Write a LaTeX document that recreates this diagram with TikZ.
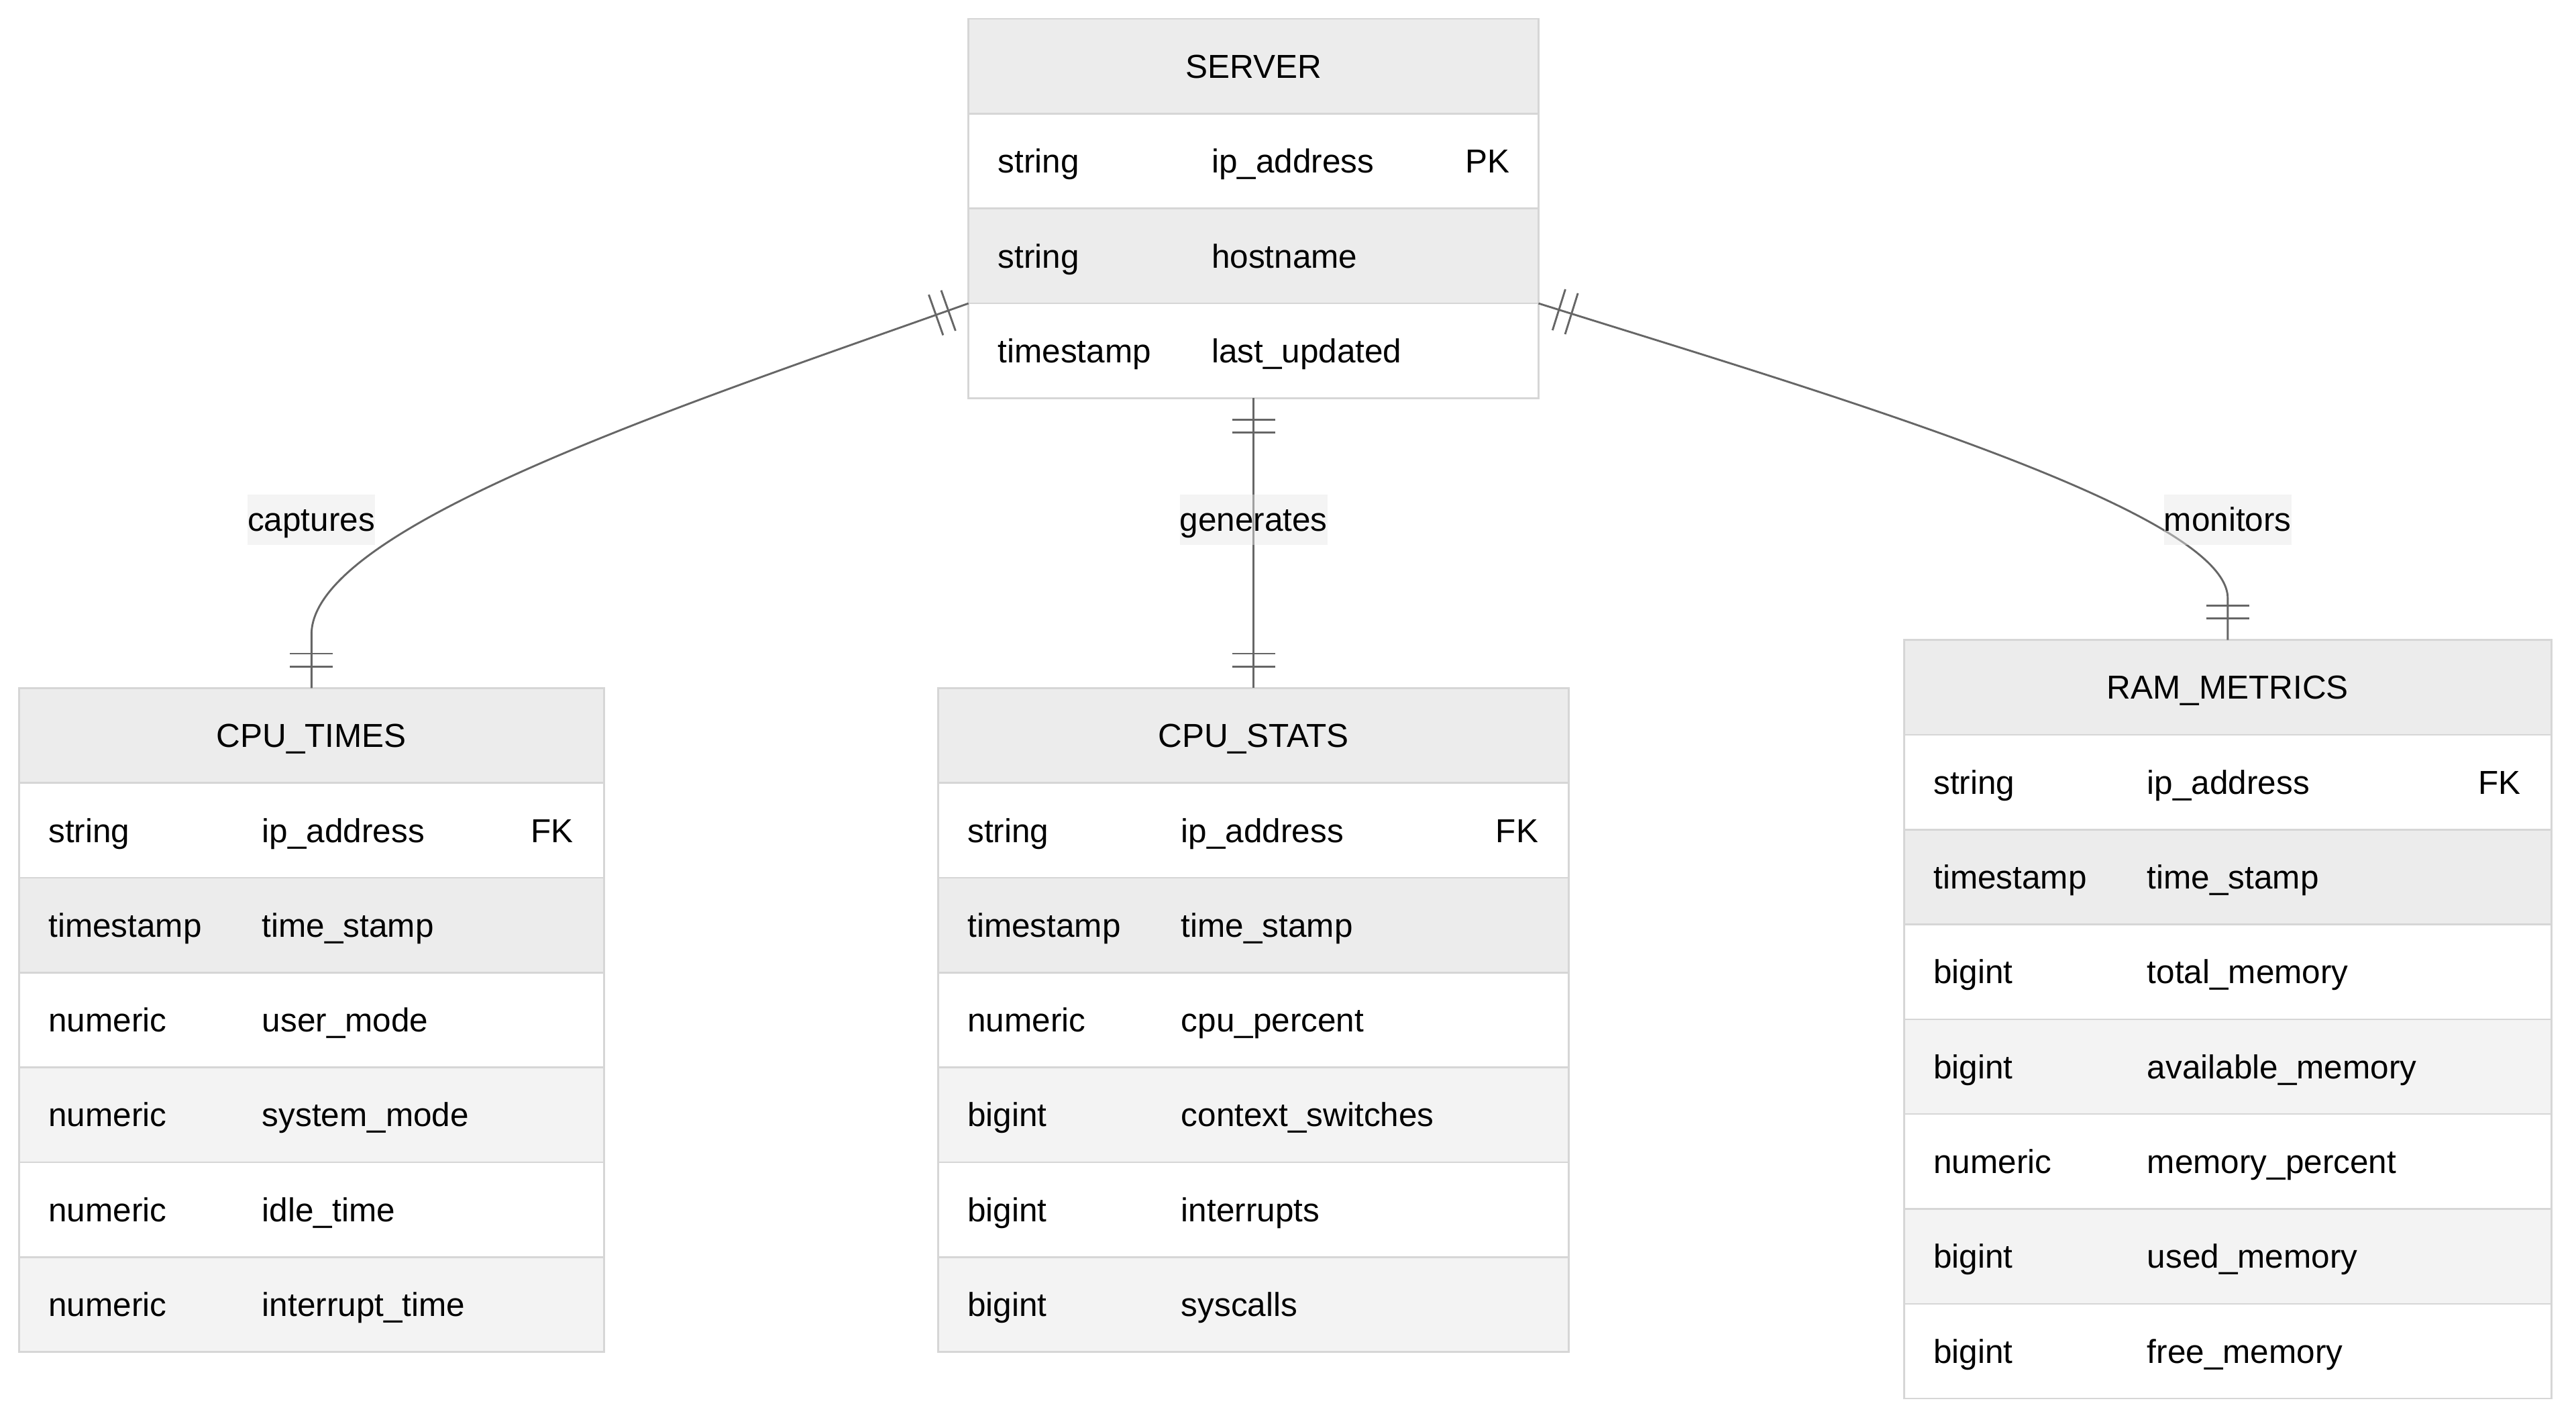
\documentclass[tikz,border=0pt]{standalone}
\usepackage{fontspec}
\setmainfont{Liberation Sans}
\usetikzlibrary{calc,decorations.markings}
\newlength\unitpx
\setlength\unitpx{0.6123pt}
\definecolor{hdrfill}{HTML}{ECECEC}
\definecolor{rowA}{HTML}{ECECEC}
\definecolor{rowB}{HTML}{F3F3F3}
\definecolor{bordercol}{HTML}{D6D6D6}
\definecolor{linecol}{HTML}{666666}
\definecolor{lblfill}{HTML}{E8E8E8}
\tikzset{
  cellbox/.style={draw=bordercol, line width=0.65pt, inner sep=0pt, outer sep=0pt, minimum height=57.7*\unitpx},
  celltext/.style={inner sep=0pt, outer sep=0pt, text height=8.83pt, text depth=0pt, font=\fontsize{12.37pt}{14pt}\selectfont, text=black},
  connline/.style={draw=linecol, line width=0.72pt},
  onebars/.style={postaction={decorate}, decoration={markings,
    mark=at position 7.96pt with {\draw[connline] (0pt,-8pt) -- (0pt,8pt);},
    mark=at position 12.86pt with {\draw[connline] (0pt,-8pt) -- (0pt,8pt);},
    mark=at position -7.96pt with {\draw[connline] (0pt,-8pt) -- (0pt,8pt);},
    mark=at position -12.86pt with {\draw[connline] (0pt,-8pt) -- (0pt,8pt);}}},
  lbl/.style={fill=lblfill, fill opacity=0.45, text opacity=1, inner sep=0pt, outer sep=0pt, text height=13.48pt, text depth=5.13pt, font=\fontsize{12.37pt}{14pt}\selectfont, text=black}
}
\newcommand{\drawentity}[6]{%
  \node[cellbox, fill=hdrfill, minimum width=#4*\unitpx, anchor=north west] (#1) at (#2,#3) {};
  \node[celltext, anchor=center] (#1-title) at (#1.center) {#5};
  \foreach \ty/\nm/\ky/\fc [count=\i] in {#6} {
    \node[cellbox, fill=\fc, minimum width=#4*\unitpx, anchor=north west] (#1-\i) at ({#2},{#3+57.7*\i}) {};
    \node[celltext, anchor=west] (#1-\i-t) at ($(#1-\i.west)+(18,0)$) {\ty};
    \node[celltext, anchor=west] (#1-\i-n) at ($(#1-\i.west)+(148,0)$) {\nm};
    \node[celltext, anchor=west] (#1-\i-k) at ($(#1-\i.east)+(-44.5,0)$) {\ky};
  }%
}
\begin{document}
\begin{tikzpicture}[x=0.6123pt,y=-0.6123pt]
\useasboundingbox[fill=white] (0,0) rectangle (1568,866.1);

\drawentity{server}{589.5}{11.5}{347}{SERVER}{string/ip\_address/PK/white, string/hostname/{}/rowA, timestamp/last\_updated/{}/white}

\drawentity{cputimes}{11.6}{418.7}{356}{CPU\_TIMES}{string/ip\_address/FK/white, timestamp/time\_stamp/{}/rowA, numeric/user\_mode/{}/white, numeric/system\_mode/{}/rowB, numeric/idle\_time/{}/white, numeric/interrupt\_time/{}/rowB}

\drawentity{cpustats}{571}{418.7}{384}{CPU\_STATS}{string/ip\_address/FK/white, timestamp/time\_stamp/{}/rowA, numeric/cpu\_percent/{}/white, bigint/context\_switches/{}/rowB, bigint/interrupts/{}/white, bigint/syscalls/{}/rowB}

\drawentity{rammetrics}{1159}{389.4}{394}{RAM\_METRICS}{string/ip\_address/FK/white, timestamp/time\_stamp/{}/rowA, bigint/total\_memory/{}/white, bigint/available\_memory/{}/rowB, numeric/memory\_percent/{}/white, bigint/used\_memory/{}/rowB, bigint/free\_memory/{}/white}

\coordinate (capend) at (189.6,386);
\coordinate (monend) at (1356,364);
\draw[connline, onebars] (server-3.north west) .. controls (420,245) and (189.6,320) .. (capend) -- (cputimes.north);
\draw[connline, onebars] (server-3.south) -- (cpustats.north);
\draw[connline, onebars] (server-3.north east) .. controls (1100,236) and (1356,310) .. (monend) -- (rammetrics.north);

\node[lbl] (lcaptures) at (189.5,316.2) {captures};
\node[lbl] (lgenerates) at (763,316.2) {generates};
\node[lbl] (lmonitors) at (1356,316.2) {monitors};
\end{tikzpicture}
\end{document}
